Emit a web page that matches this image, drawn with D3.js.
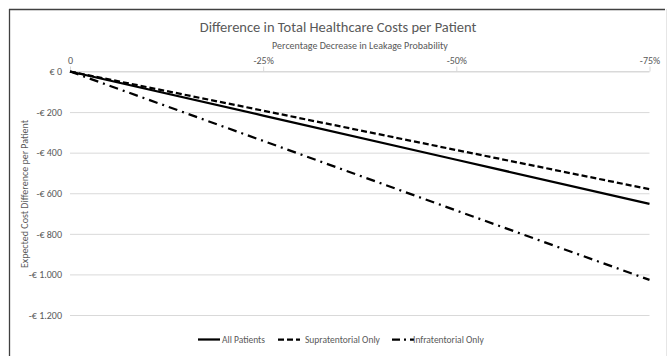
<!DOCTYPE html>
<html><head><meta charset="utf-8">
<script src="https://cdn.jsdelivr.net/npm/d3@7"></script>
<style>body{margin:0;background:#fff}svg{display:block;font-family:Calibri,Carlito,"Open Sans",sans-serif}</style>
</head><body><svg id="c" width="667" height="356"></svg>
<script>
const xValues = [0, -25, -50, -75];
const xTickLabels = ["0", "-25%", "-50%", "-75%"];
const allPatients = [0, -217, -435, -652];
const supratentorial = [0, -193, -387, -580];
const infratentorial = [0, -342, -685, -1027];
const yTicks = [0, -200, -400, -600, -800, -1000, -1200];
const yTickLabels = ["€ 0", "-€ 200", "-€ 400", "-€ 600", "-€ 800", "-€ 1.000", "-€ 1.200"];
const seriesNames = ["All Patients", "Supratentorial Only", "Infratentorial Only"];

const svg = d3.select("#c");
const x = d3.scaleLinear().domain([0, -75]).range([70, 649.5]);
const y = d3.scaleLinear().domain([0, -1200]).range([71.5, 315]);
const txt = "#595959";
const ff = "Calibri,Carlito,'Open Sans',sans-serif";

// border
svg.append("line").attr("x1",9).attr("x2",665).attr("y1",9.5).attr("y2",9.5).attr("stroke","#404040").attr("stroke-width",1.3);
svg.append("line").attr("x1",9.5).attr("x2",9.5).attr("y1",9).attr("y2",356).attr("stroke","#404040").attr("stroke-width",1.3);
svg.append("line").attr("x1",666.5).attr("x2",666.5).attr("y1",9).attr("y2",356).attr("stroke","#e6e6e6").attr("stroke-width",1);

// titles
svg.append("text").attr("x",338).attr("y",32).attr("text-anchor","middle").attr("fill",txt).attr("font-size",14.5).text("Difference in Total Healthcare Costs per Patient");
svg.append("text").attr("x",360).attr("y",49).attr("text-anchor","middle").attr("fill",txt).attr("font-size",10).text("Percentage Decrease in Leakage Probability");
svg.append("text").attr("transform","translate(28,194) rotate(-90)").attr("text-anchor","middle").attr("fill",txt).attr("font-size",10).text("Expected Cost Difference per Patient");

// gridlines + y labels
const yAxis = d3.axisLeft(y).tickValues(yTicks).tickSize(-(649.5-70)).tickFormat((d,i)=>yTickLabels[i]).tickPadding(8);
const gy = svg.append("g").attr("transform","translate(70,0)").call(yAxis);
gy.select(".domain").remove();
gy.selectAll(".tick line").attr("stroke","#d9d9d9").attr("stroke-width",1);
gy.selectAll(".tick text").attr("fill",txt).attr("font-size",10).style("font-family",ff);

// top x axis
const xAxis = d3.axisTop(x).tickValues(xValues).tickFormat((d,i)=>xTickLabels[i]).tickSize(5).tickPadding(3);
const gx = svg.append("g").attr("transform","translate(0,71.5)").call(xAxis);
gx.select(".domain").attr("stroke","#d9d9d9").attr("d","M70,0H649.5");
gx.selectAll(".tick line").attr("stroke","#d9d9d9");
gx.selectAll(".tick text").attr("fill",txt).attr("font-size",10).style("font-family",ff);

// lines
const line = d3.line().x((d,i)=>x(xValues[i])).y(d=>y(d));
const styles = [
  {data: allPatients, dash: null},
  {data: supratentorial, dash: "6,3"},
  {data: infratentorial, dash: "9,5,2,5"}
];
styles.forEach(s=>{
  svg.append("path").datum(s.data).attr("d",line).attr("fill","none").attr("stroke","#000").attr("stroke-width",2.25).attr("stroke-dasharray",s.dash);
});

// legend
const legX = [198, 278, 392];
const legG = svg.append("g").attr("transform","translate(0,339.5)");
seriesNames.forEach((n,i)=>{
  legG.append("line").attr("x1",legX[i]).attr("x2",legX[i]+22).attr("y1",0).attr("y2",0).attr("stroke","#000").attr("stroke-width",2.25).attr("stroke-dasharray",i===2?"8,4,2,4":(i===1?"6,3":null));
  legG.append("text").attr("x",legX[i]+(i===1?27:(i===2?21:24))).attr("y",3.5).attr("fill",txt).attr("font-size",9.5).text(n);
});
</script></body></html>
